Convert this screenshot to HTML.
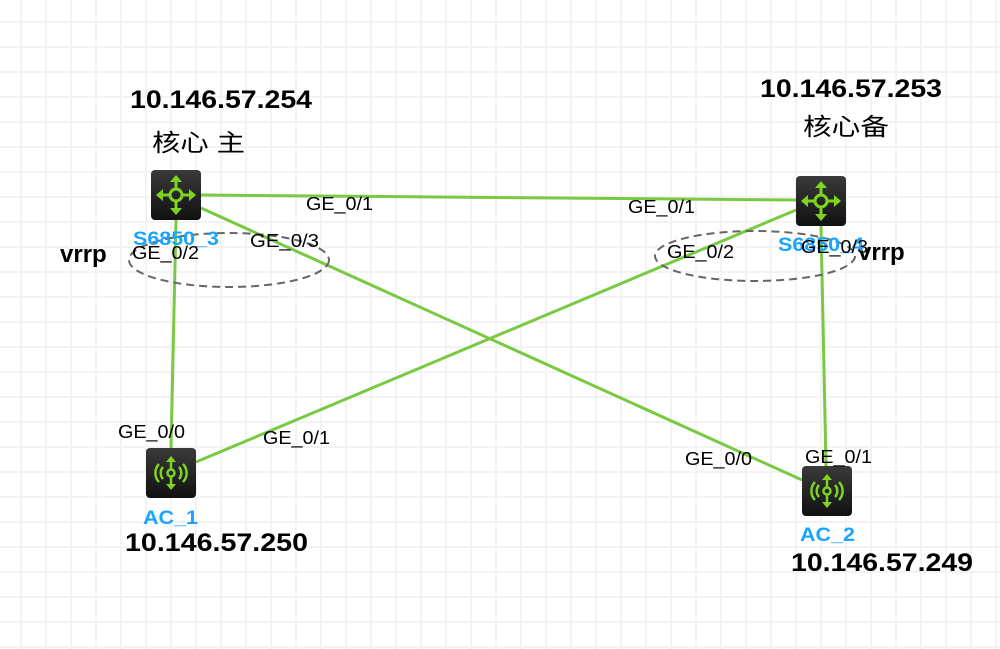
<!DOCTYPE html>
<html><head><meta charset="utf-8"><style>
html,body{margin:0;padding:0;background:#fff;width:1000px;height:649px;overflow:hidden}
svg{display:block}
text{font-family:"Liberation Sans","Noto Sans CJK SC",sans-serif}
</style></head><body>
<svg width="1000" height="649" viewBox="0 0 1000 649">
<defs>
<pattern id="g" x="20" y="21" width="25" height="25" patternUnits="userSpaceOnUse">
<rect x="0" y="0" width="2" height="25" fill="#f3f3f3"/>
<rect x="0" y="0" width="25" height="2" fill="#f3f3f3"/>
</pattern>
<linearGradient id="bg" x1="0" y1="0" x2="0" y2="1"><stop offset="0" stop-color="#3a3a3a"/><stop offset="1" stop-color="#111"/></linearGradient>
<g id="sw">
<rect x="0" y="0" width="50" height="50" rx="4" fill="url(#bg)"/>
<g stroke="#7ed321" stroke-width="3" fill="none">
<circle cx="25" cy="25" r="6"/>
<line x1="25" y1="8" x2="25" y2="19"/><line x1="25" y1="31" x2="25" y2="42"/>
<line x1="8" y1="25" x2="19" y2="25"/><line x1="31" y1="25" x2="42" y2="25"/>
</g>
<g fill="#7ed321">
<polygon points="25,5 19,12 31,12"/><polygon points="25,45 19,38 31,38"/>
<polygon points="5,25 12,19 12,31"/><polygon points="45,25 38,19 38,31"/>
</g>
</g>
<g id="ac">
<rect x="0" y="0" width="50" height="50" rx="4" fill="url(#bg)"/>
<g stroke="#7ed321" stroke-width="2.5" fill="none">
<circle cx="25" cy="25" r="3.5"/>
<line x1="25" y1="12" x2="25" y2="21"/><line x1="25" y1="29" x2="25" y2="38"/>
<path d="M17 19 A9 9 0 0 0 17 31"/><path d="M13 16 A13 13 0 0 0 13 34"/>
<path d="M33 19 A9 9 0 0 1 33 31"/><path d="M37 16 A13 13 0 0 1 37 34"/>
</g>
<g fill="#7ed321"><polygon points="25,8 20,14 30,14"/><polygon points="25,42 20,36 30,36"/></g>
</g>
</defs>
<rect width="1000" height="649" fill="url(#g)"/>
<g stroke="#7ac943" stroke-width="3" fill="none">
<line x1="201" y1="195" x2="796" y2="200"/>
<line x1="201" y1="208" x2="802" y2="480"/>
<line x1="796" y1="210" x2="196" y2="462"/>
<line x1="176" y1="220" x2="171" y2="448"/>
<line x1="821" y1="226" x2="826" y2="466"/>
</g>
<g stroke="#666" stroke-width="2" stroke-dasharray="8,5" fill="none">
<ellipse cx="229" cy="260" rx="100" ry="27"/>
<ellipse cx="755" cy="256" rx="100" ry="25"/>
</g>
<use href="#sw" x="151" y="170"/>
<use href="#sw" x="796" y="176"/>
<use href="#ac" x="146" y="448"/>
<use href="#ac" x="802" y="466"/>
<g font-weight="bold" font-size="25" fill="#000">
<text x="130" y="108" textLength="182" lengthAdjust="spacingAndGlyphs">10.146.57.254</text>
<text x="760" y="97" textLength="182" lengthAdjust="spacingAndGlyphs">10.146.57.253</text>
<text x="125" y="551" textLength="183" lengthAdjust="spacingAndGlyphs">10.146.57.250</text>
<text x="791" y="571" textLength="182" lengthAdjust="spacingAndGlyphs">10.146.57.249</text>
<text x="60" y="262" font-size="24">vrrp</text>
<text x="858" y="260" font-size="24">vrrp</text>
</g>
<g font-size="24" fill="#000" style="font-family:'Noto Serif CJK SC','Noto Sans CJK SC',serif">
<text x="152" y="151" textLength="93" lengthAdjust="spacingAndGlyphs">核心 主</text>
<text x="803" y="135" textLength="86" lengthAdjust="spacingAndGlyphs">核心备</text>
</g>
<g font-weight="bold" font-size="19" fill="#1aa3ff">
<text x="133" y="245" textLength="86" lengthAdjust="spacingAndGlyphs">S6850_3</text>
<text x="778" y="251" textLength="86" lengthAdjust="spacingAndGlyphs">S6850_4</text>
<text x="143" y="524" textLength="55" lengthAdjust="spacingAndGlyphs">AC_1</text>
<text x="800" y="541" textLength="55" lengthAdjust="spacingAndGlyphs">AC_2</text>
</g>
<g font-size="18" fill="#000">
<text x="306" y="210" textLength="67" lengthAdjust="spacingAndGlyphs">GE_0/1</text>
<text x="628" y="213" textLength="67" lengthAdjust="spacingAndGlyphs">GE_0/1</text>
<text x="250" y="247" textLength="69" lengthAdjust="spacingAndGlyphs">GE_0/3</text>
<text x="132" y="259" textLength="67" lengthAdjust="spacingAndGlyphs">GE_0/2</text>
<text x="667" y="258" textLength="67" lengthAdjust="spacingAndGlyphs">GE_0/2</text>
<text x="801" y="253" textLength="67" lengthAdjust="spacingAndGlyphs">GE_0/3</text>
<text x="118" y="438" textLength="67" lengthAdjust="spacingAndGlyphs">GE_0/0</text>
<text x="263" y="444" textLength="67" lengthAdjust="spacingAndGlyphs">GE_0/1</text>
<text x="685" y="465" textLength="67" lengthAdjust="spacingAndGlyphs">GE_0/0</text>
<text x="805" y="463" textLength="67" lengthAdjust="spacingAndGlyphs">GE_0/1</text>
</g>
</svg>
</body></html>
